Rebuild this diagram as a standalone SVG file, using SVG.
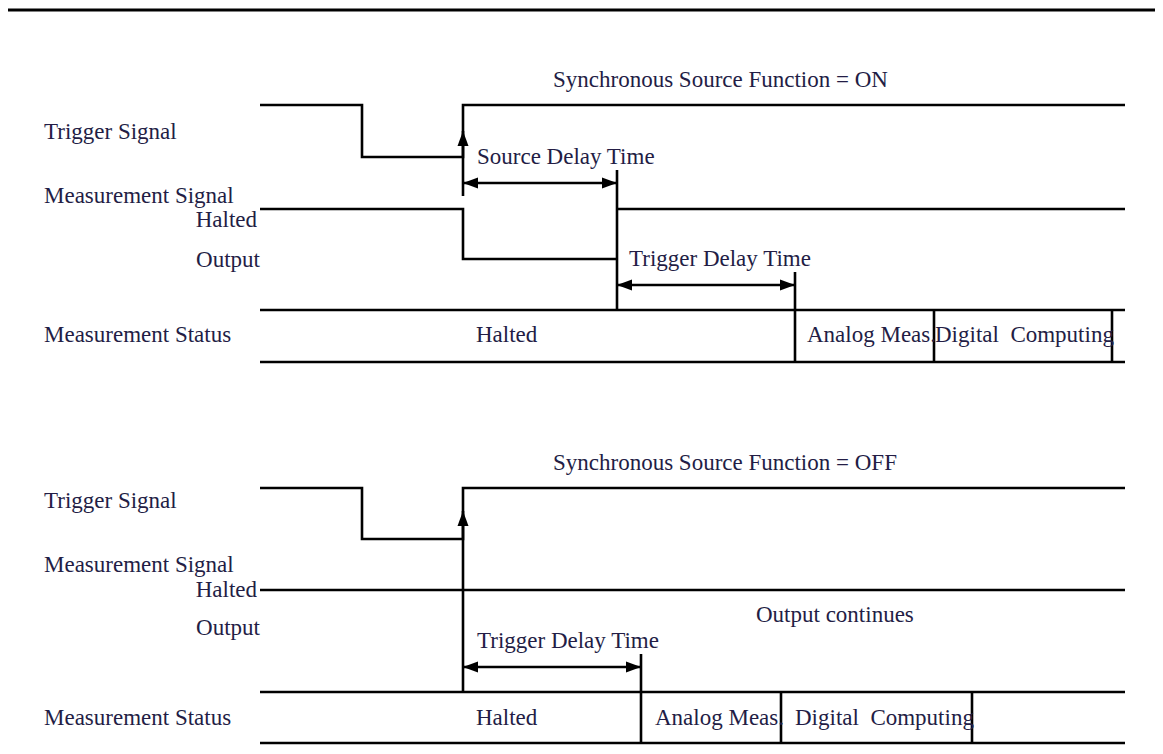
<svg xmlns="http://www.w3.org/2000/svg" width="1163" height="754" viewBox="0 0 1163 754">
<style>
text{font-family:"Liberation Serif","Times New Roman",serif;font-size:23px;fill:#231d45;white-space:pre}
.r{text-anchor:end}
.w{fill:none;stroke:#000;stroke-width:2.6;stroke-linejoin:miter;stroke-linecap:butt}
</style>
<defs>
<marker id="ah" viewBox="0 0 15 12" refX="15" refY="6" markerWidth="15" markerHeight="12" markerUnits="userSpaceOnUse" orient="auto-start-reverse">
<path d="M0,0.5 L15,6 L0,11.5 Z" fill="#000"/>
</marker>
</defs>
<rect width="1163" height="754" fill="#fff"/>
<line x1="8" y1="10" x2="1155" y2="10" stroke="#000" stroke-width="3"/>

<g id="top-labels">
<text x="553" y="87">Synchronous Source Function = ON</text>
<text x="44" y="139">Trigger Signal</text>
<text x="44" y="203">Measurement Signal</text>
<text x="257" y="227" class="r">Halted</text>
<text x="260" y="267" class="r">Output</text>
<text x="44" y="342">Measurement Status</text>
</g>

<g id="top-connectors">
<path class="w" d="M260,105 H362 V157 H463 V105 H1125"/>
<line class="w" x1="463" y1="157" x2="463" y2="131" marker-end="url(#ah)"/>
<line class="w" x1="463" y1="157" x2="463" y2="196"/>
<path class="w" d="M260,209 H463 V259 H617"/>
<line class="w" x1="617" y1="170" x2="617" y2="310"/>
<line class="w" x1="617" y1="209" x2="1125" y2="209"/>
<line class="w" x1="463" y1="183" x2="617" y2="183" marker-start="url(#ah)" marker-end="url(#ah)"/>
<line class="w" x1="617" y1="285" x2="795" y2="285" marker-start="url(#ah)" marker-end="url(#ah)"/>
<line class="w" x1="795" y1="272" x2="795" y2="362"/>
<line class="w" x1="260" y1="310" x2="1125" y2="310"/>
<line class="w" x1="260" y1="362" x2="1125" y2="362"/>
<line class="w" x1="934" y1="310" x2="934" y2="362"/>
<line class="w" x1="1112" y1="310" x2="1112" y2="362"/>
</g>

<g id="top-status">
<text x="477" y="164">Source Delay Time</text>
<text x="629" y="266">Trigger Delay Time</text>
<text x="476" y="342">Halted</text>
<text x="807" y="342">Analog Meas.</text>
<text x="935" y="342">Digital  Computing</text>
</g>

<g id="bottom-labels">
<text x="553" y="470">Synchronous Source Function = OFF</text>
<text x="44" y="508">Trigger Signal</text>
<text x="44" y="572">Measurement Signal</text>
<text x="257" y="597" class="r">Halted</text>
<text x="260" y="635" class="r">Output</text>
<text x="44" y="725">Measurement Status</text>
</g>

<g id="bottom-connectors">
<path class="w" d="M260,488 H362 V539 H463 V488 H1125"/>
<line class="w" x1="463" y1="539" x2="463" y2="511" marker-end="url(#ah)"/>
<line class="w" x1="463" y1="539" x2="463" y2="692"/>
<line class="w" x1="260" y1="590" x2="1125" y2="590"/>
<line class="w" x1="463" y1="667" x2="641" y2="667" marker-start="url(#ah)" marker-end="url(#ah)"/>
<line class="w" x1="641" y1="654" x2="641" y2="743"/>
<line class="w" x1="260" y1="692" x2="1125" y2="692"/>
<line class="w" x1="260" y1="743" x2="1125" y2="743"/>
<line class="w" x1="781" y1="692" x2="781" y2="743"/>
<line class="w" x1="972" y1="692" x2="972" y2="743"/>
</g>

<g id="bottom-status">
<text x="756" y="622">Output continues</text>
<text x="477" y="648">Trigger Delay Time</text>
<text x="476" y="725">Halted</text>
<text x="655" y="725">Analog Meas.</text>
<text x="795" y="725">Digital  Computing</text>
</g>
</svg>
